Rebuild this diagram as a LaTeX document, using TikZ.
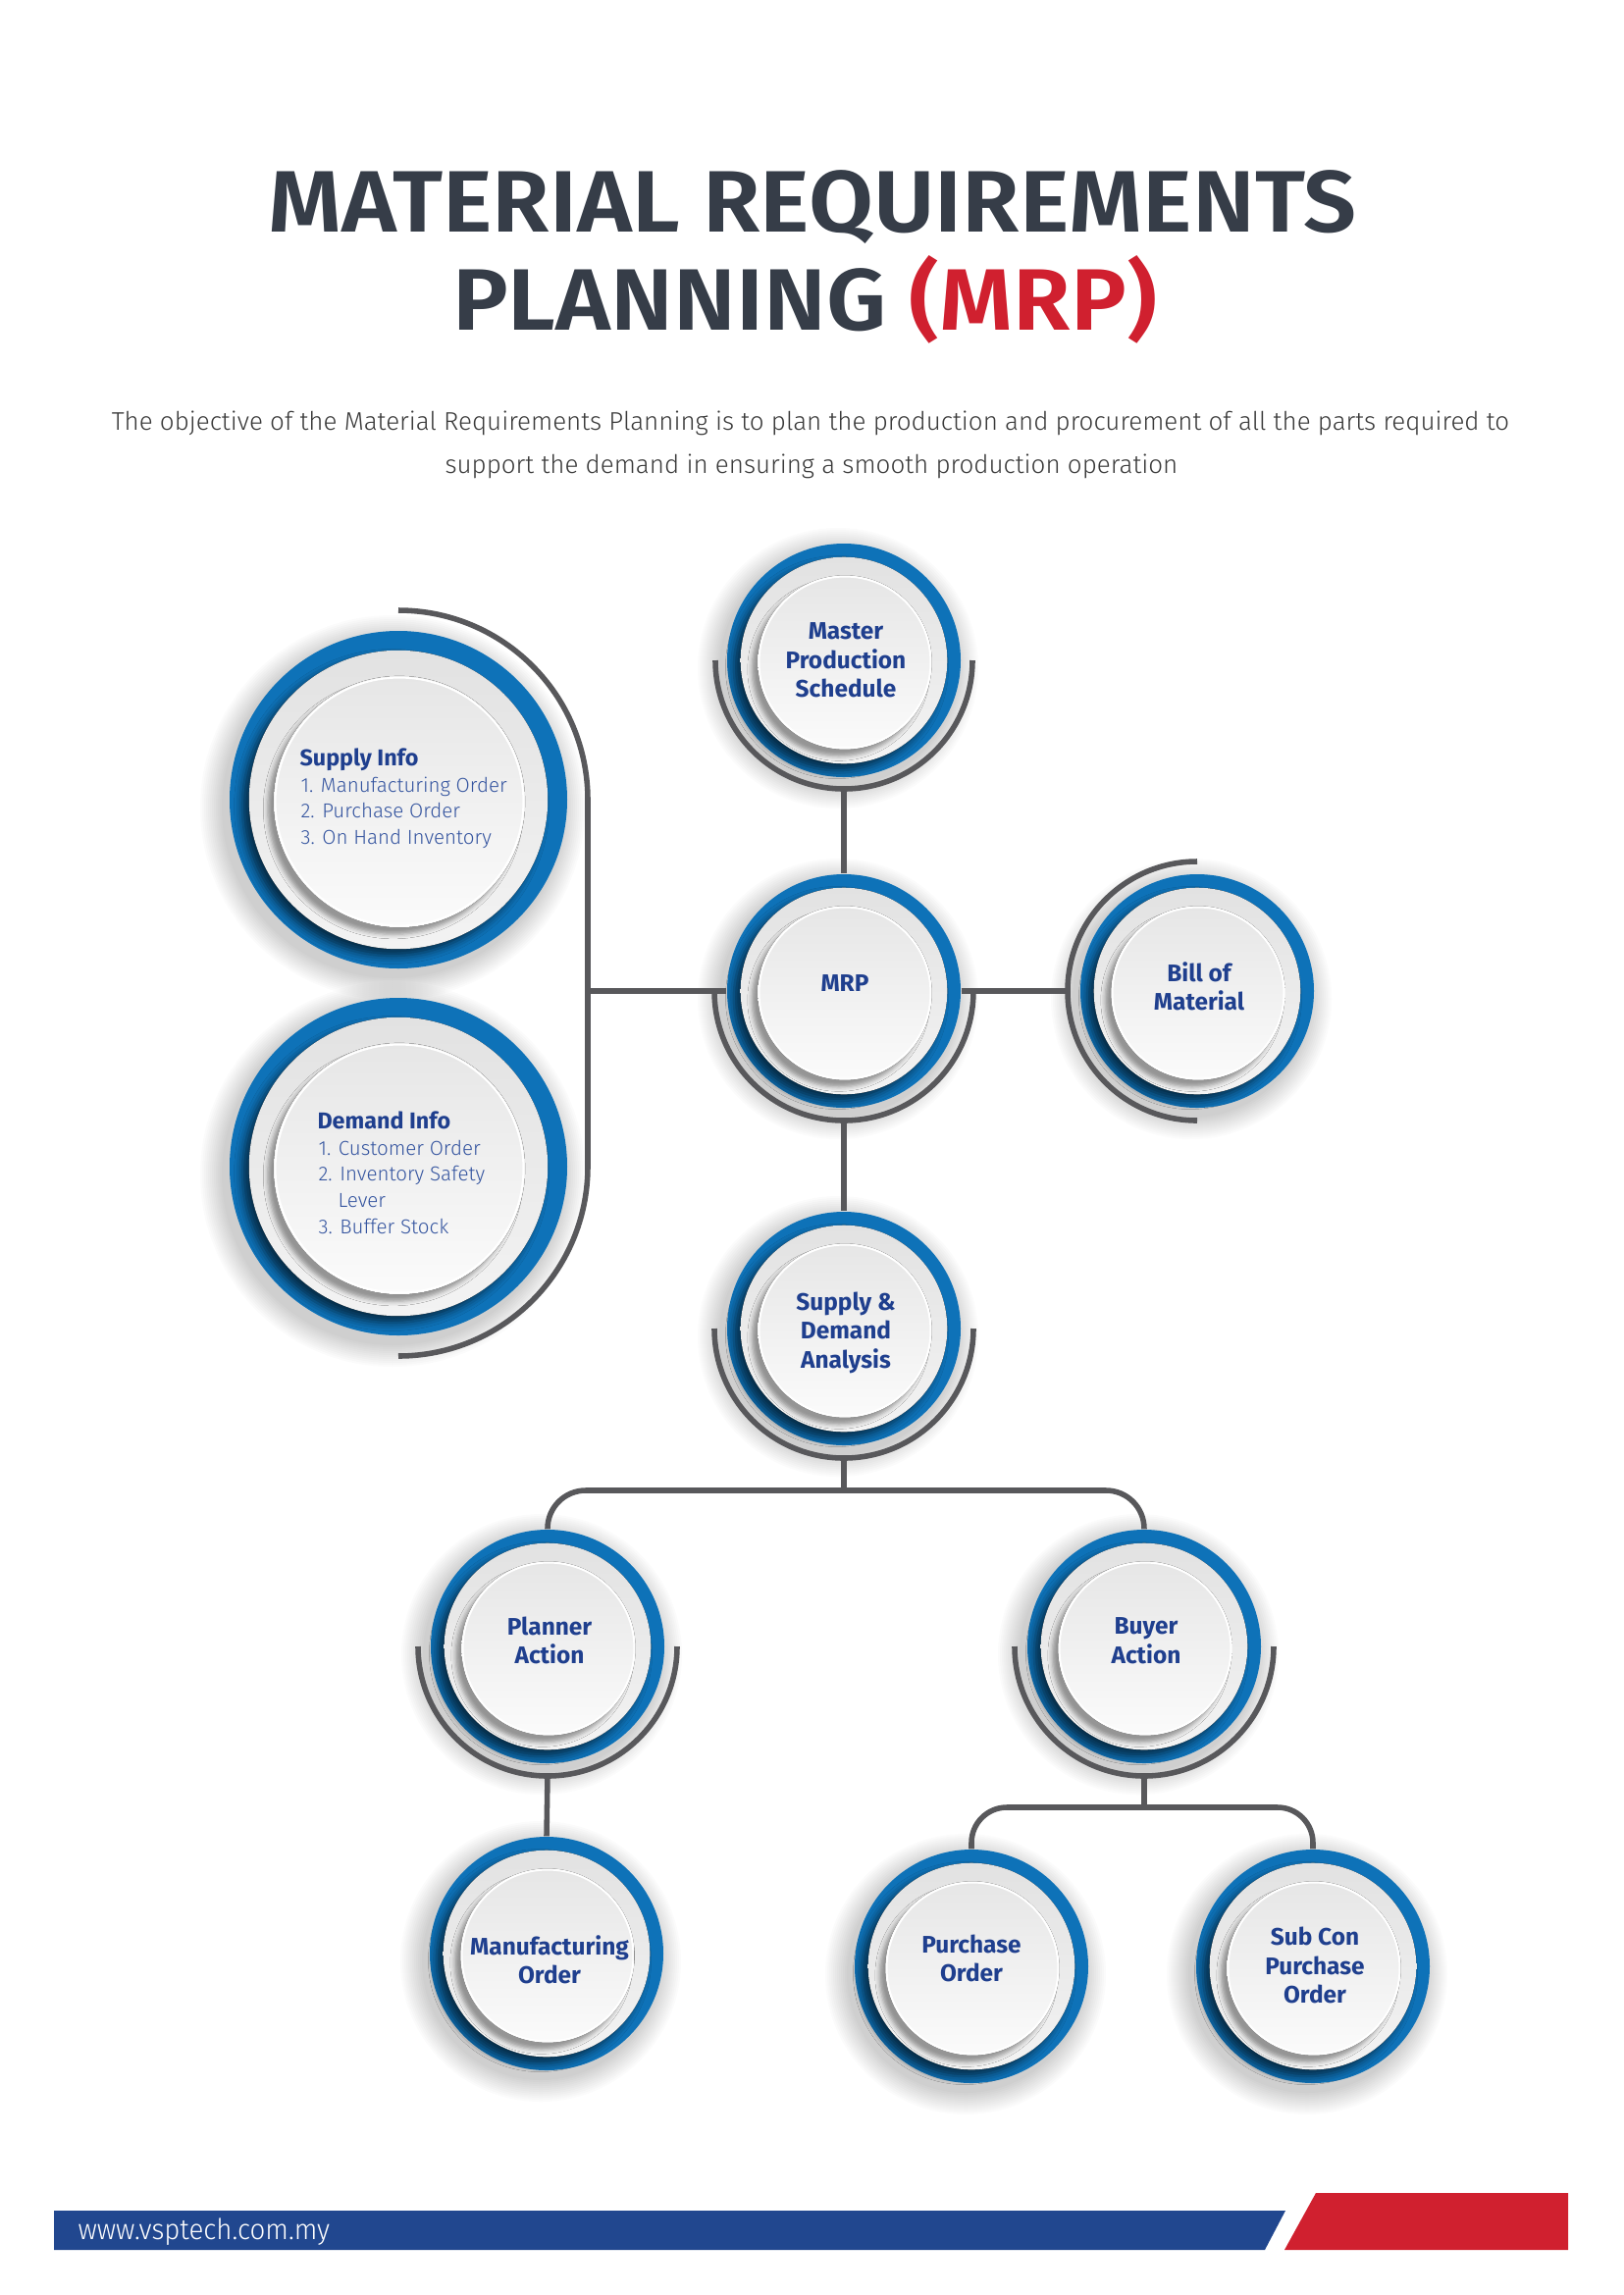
\documentclass[tikz,border=0pt]{standalone}
\usepackage{fontspec}
\setmainfont{Fira Sans}
\newfontfamily\lightf{Fira Sans Light}
\newfontfamily\semif{Fira Sans SemiBold}[FakeStretch=1.075]
\newfontfamily\urlf{Fira Sans Light}[FakeStretch=0.95]
\usetikzlibrary{shadows.blur}
\definecolor{ringblue}{HTML}{0E72B8}
\definecolor{textblue}{HTML}{1F3F8E}
\definecolor{itemblue}{HTML}{34549F}
\definecolor{linegray}{HTML}{58585B}
\definecolor{titlegray}{HTML}{363D48}
\definecolor{mrpred}{HTML}{D0202F}
\definecolor{footblue}{HTML}{21478F}
\definecolor{subgray}{HTML}{3A3A3A}
\definecolor{plateA}{HTML}{E2E2E2}
\definecolor{plateB}{HTML}{F3F3F3}
\definecolor{innerA}{HTML}{E6E6E6}
\definecolor{innerB}{HTML}{FBFBFB}

\newcommand{\mrpplate}[2]{%
\begin{scope}[shift={#1}]
\foreach \k in {1,...,12}{\fill[black, opacity=0.016] (-6,8) circle[radius={#2+2*\k}];}
\fill[ringblue] (0,0) circle[radius=#2];
\fill[top color=plateA, bottom color=plateB, blur shadow={shadow xshift=-2.5pt, shadow yshift=-2.5pt, shadow blur radius=3pt, shadow opacity=60}] (0,0) circle[radius={0.885*#2}];
\fill[top color=innerA, bottom color=innerB, blur shadow={shadow xshift=-2.2pt, shadow yshift=-2.6pt, shadow blur radius=1.6pt, shadow opacity=38}] (1,2) circle[radius={0.745*#2}];
\draw[white, line width=0.7pt] (1,2) circle[radius={0.735*#2}];
\end{scope}}

\tikzset{
  hub/.style={circle, minimum size=85.7pt, inner sep=0pt},
  bighub/.style={circle, minimum size=123.8pt, inner sep=0pt},
  lbl/.style={align=center, text=textblue, inner sep=0pt, font=\bfseries\fontsize{8.8}{10.6}\selectfont},
  head/.style={text=textblue, inner sep=0pt, font=\bfseries\fontsize{8.4}{10}\selectfont},
  item/.style={text=itemblue, inner sep=0pt, font=\lightf\fontsize{7.4}{9}\selectfont},
  conn/.style={draw=linegray, line width=2pt},
  titlef/.style={text=titlegray, inner sep=0pt, font=\semif\fontsize{32}{36}\selectfont},
  subf/.style={text=subgray, inner sep=0pt, font=\lightf\fontsize{9.35}{11}\selectfont},
}

\begin{document}
\begin{tikzpicture}[x=0.36pt, y=-0.36pt]
\fill[white] (0,0) rectangle (1654,2339);
\useasboundingbox (0,0) rectangle (1654,2339);

% title
\node[titlef, anchor=base] (t1) at (828,236) {MATERIAL REQUIREMENTS};
\node[titlef, anchor=base] (t2) at (820,336) {PLANNING \textcolor{mrpred}{(MRP)}};
\node[subf, anchor=base] (s1) at (826,438) {The objective of the Material Requirements Planning is to plan the production and procurement of all the parts required to};
\node[subf, anchor=base] (s2) at (827,482) {support the demand in ensuring a smooth production operation};

% plates
\mrpplate{(860,673)}{119}
\mrpplate{(860,1010)}{119}
\mrpplate{(1220,1010)}{119}
\mrpplate{(860,1354)}{119}
\mrpplate{(558,1678)}{119}
\mrpplate{(1166,1678)}{119}
\mrpplate{(557,1991)}{119}
\mrpplate{(990,2004)}{119}
\mrpplate{(1338,2004)}{119}
\mrpplate{(406,815)}{172}
\mrpplate{(406,1189)}{172}

% hub nodes
\node[hub] (mps) at (860,673) {};
\node[hub] (mrp) at (860,1010) {};
\node[hub] (bom) at (1220,1010) {};
\node[hub] (sda) at (860,1354) {};
\node[hub] (pa) at (558,1678) {};
\node[hub] (ba) at (1166,1678) {};
\node[hub] (mo) at (557,1991) {};
\node[hub] (po) at (990,2004) {};
\node[hub] (sc) at (1338,2004) {};
\node[bighub] (si) at (406,815) {};
\node[bighub] (di) at (406,1189) {};

% labels
\node[lbl] (mpsT) at (862,673) {Master\\Production\\Schedule};
\node[lbl] (mrpT) at (861,1002) {MRP};
\node[lbl] (bomT) at (1222,1005) {Bill of\\Material};
\node[lbl] (sdaT) at (862,1358) {Supply \&\\Demand\\Analysis};
\node[lbl] (paT) at (560,1672) {Planner\\Action};
\node[lbl] (baT) at (1168,1672) {Buyer\\Action};
\node[lbl] (moT) at (560,1997) {Manufacturing\\Order};
\node[lbl] (poT) at (990,1996) {Purchase\\Order};
\node[lbl] (scT) at (1340,2003) {Sub Con\\Purchase\\Order};

\node[head, anchor=base west] (sih) at (305,780) {Supply Info};
\node[item, anchor=base west] (si1) at (306,807) {1. Manufacturing Order};
\node[item, anchor=base west] (si2) at (306,833) {2. Purchase Order};
\node[item, anchor=base west] (si3) at (306,860) {3. On Hand Inventory};

\node[head, anchor=base west] (dih) at (323,1150) {Demand Info};
\node[item, anchor=base west] (di1) at (324,1177) {1. Customer Order};
\node[item, anchor=base west] (di2) at (324,1203) {2. Inventory Safety};
\node[item, anchor=base west] (di3) at (344,1230) {Lever};
\node[item, anchor=base west] (di4) at (324,1257) {3. Buffer Stock};

% arcs around hubs
\draw[conn] (mps.center) ++(-131,0) arc[start angle=180, end angle=0, radius=131];
\draw[conn] (mrp.center) ++(-132,0) arc[start angle=180, end angle=0, radius=132];
\draw[conn] (bom.center) ++(0,-132) arc[start angle=270, end angle=90, radius=132];
\draw[conn] (sda.center) ++(-132,0) arc[start angle=180, end angle=0, radius=132];
\draw[conn] (pa.center) ++(-132,0) arc[start angle=180, end angle=0, radius=132];
\draw[conn] (ba.center) ++(-132,0) arc[start angle=180, end angle=0, radius=132];
\draw[conn] (si.center) ++(0,-193) arc[start angle=270, end angle=360, radius=193] -- ++(0,374) arc[start angle=0, end angle=90, radius=193];

% connectors
\coordinate (mpsB) at (860,804);
\coordinate (mrpB) at (860,1142);
\coordinate (brk) at (599,1010);
\coordinate (bomL) at (1088,1010);
\coordinate (sdaB) at (860,1486);
\coordinate (sdaJ) at (860,1519);
\coordinate (paB) at (558,1810);
\coordinate (baB) at (1166,1810);
\coordinate (baJ) at (1166,1842);

\draw[conn] (mpsB) -- (mrp.north);
\draw[conn] (mrpB) -- (sda.north);
\draw[conn] (brk) -- (mrp.west);
\draw[conn] (mrp.east) -- (bomL);
\draw[conn] (sdaB) -- (sdaJ);
\draw[conn, rounded corners=14pt] (sdaJ) -| (pa.north);
\draw[conn, rounded corners=14pt] (sdaJ) -| (ba.north);
\draw[conn] (paB) -- (mo.north);
\draw[conn] (baB) -- (baJ);
\draw[conn, rounded corners=13pt] (baJ) -| (po.north);
\draw[conn, rounded corners=13pt] (baJ) -| (sc.north);

% footer
\fill[footblue] (55,2253) -- (1310,2253) -- (1289,2293) -- (55,2293) -- cycle;
\fill[mrpred] (1341,2235) -- (1598,2235) -- (1598,2293) -- (1309,2293) -- cycle;
\node[anchor=base west, text=white, inner sep=0pt, font=\urlf\fontsize{10.5}{12}\selectfont] (url) at (79,2282) {www.vsptech.com.my};
\end{tikzpicture}
\end{document}
